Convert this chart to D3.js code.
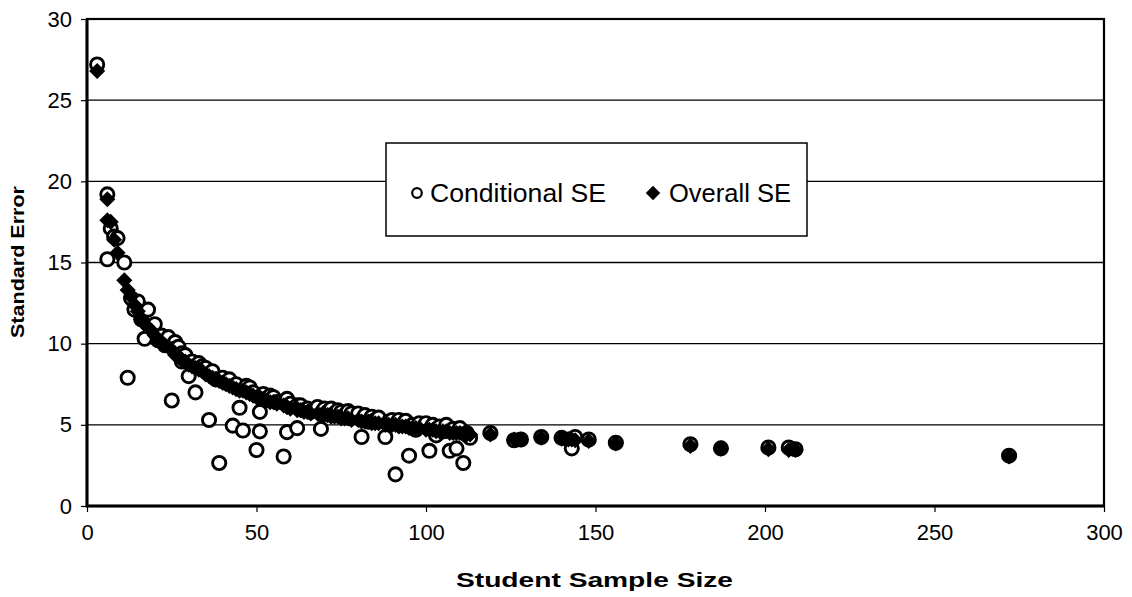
<!DOCTYPE html>
<html>
<head>
<meta charset="utf-8">
<script src="https://cdn.jsdelivr.net/npm/d3@7/dist/d3.min.js"></script>
<style>
  html, body { margin: 0; padding: 0; background: #fff; }
  svg { display: block; }
  text { font-family: "Liberation Sans", Arial, sans-serif; fill: #000; }
</style>
</head>
<body>
<svg id="chart" width="1132" height="597"></svg>
<script>
// Student sample size for each school
const sampleSize = [
  3, 6, 7, 6, 8, 9, 11, 12, 13, 14, 15, 16, 17, 18, 19, 20, 21, 22, 23, 24,
  25, 26, 26, 27, 28, 28, 29, 30, 31, 32, 33, 34, 35, 36, 37, 38, 39, 40, 41, 42,
  43, 44, 45, 46, 47, 48, 49, 50, 51, 51, 52, 53, 54, 55, 56, 58, 59, 59, 60, 62,
  62, 63, 64, 65, 66, 68, 69, 70, 71, 72, 73, 74, 75, 76, 77, 78, 80, 81, 82, 83,
  84, 85, 86, 88, 89, 90, 91, 92, 93, 94, 95, 96, 97, 98, 100, 101, 102, 103, 104, 105,
  106, 107, 108, 109, 110, 111, 112, 113, 119, 126, 128, 134, 140, 142, 143, 144, 148, 156, 178, 187,
  201, 207, 209, 272
];
// Conditional standard error for each school
const conditionalSE = [
  27.2, 19.2, 17.1, 15.2, 16.6, 16.5, 15.0, 7.9, 12.8, 12.1, 12.6, 11.5, 10.3, 12.1, 11.0, 11.2, 10.2, 10.5, 9.9, 10.4,
  6.5, 10.1, 9.7, 9.8, 8.9, 9.4, 9.3, 8.0, 8.9, 7.0, 8.8, 8.6, 8.5, 5.3, 8.3, 7.8, 2.65, 7.9, 7.6, 7.8,
  4.95, 7.5, 6.05, 4.65, 7.4, 7.3, 7.0, 3.45, 5.8, 4.6, 6.9, 6.6, 6.8, 6.7, 6.4, 3.05, 4.55, 6.6, 6.3, 4.8,
  6.2, 6.2, 5.9, 6.0, 5.8, 6.1, 4.75, 6.0, 5.8, 6.0, 5.7, 5.9, 5.8, 5.6, 5.85, 5.7, 5.7, 4.25, 5.6, 5.2,
  5.5, 5.3, 5.45, 4.25, 5.2, 5.3, 1.95, 5.3, 5.0, 5.25, 3.1, 5.0, 4.7, 5.1, 5.1, 3.4, 5.0, 4.35, 4.9, 4.6,
  5.0, 3.4, 4.75, 3.55, 4.8, 2.65, 4.5, 4.2, 4.5, 4.05, 4.1, 4.25, 4.2, 4.1, 3.55, 4.25, 4.1, 3.9, 3.8, 3.55,
  3.6, 3.6, 3.5, 3.1
];
// Overall standard error for each school
const overallSE = [
  26.8, 18.9, 17.5, 17.6, 16.4, 15.6, 13.9, 13.3, 12.9, 12.4, 12.0, 11.5, 11.2, 11.0, 10.8, 10.5, 10.2, 10.1, 9.9, 9.8,
  9.6, 9.4, 9.3, 9.2, 9.0, 9.0, 8.9, 8.7, 8.6, 8.5, 8.4, 8.3, 8.1, 8.0, 7.9, 7.8, 7.7, 7.6, 7.5, 7.4,
  7.3, 7.2, 7.1, 7.1, 7.0, 6.9, 6.8, 6.7, 6.7, 6.6, 6.6, 6.5, 6.4, 6.4, 6.3, 6.2, 6.1, 6.1, 6.0, 6.0,
  5.9, 5.9, 5.8, 5.8, 5.7, 5.7, 5.6, 5.6, 5.6, 5.5, 5.5, 5.5, 5.4, 5.4, 5.4, 5.3, 5.3, 5.2, 5.2, 5.2,
  5.1, 5.1, 5.1, 5.0, 5.0, 5.0, 5.0, 4.9, 4.9, 4.9, 4.8, 4.8, 4.8, 4.8, 4.7, 4.7, 4.7, 4.6, 4.6, 4.6,
  4.6, 4.5, 4.5, 4.5, 4.5, 4.4, 4.4, 4.4, 4.4, 4.1, 4.1, 4.2, 4.15, 4.1, 4.1, 4.05, 4.0, 3.85, 3.7, 3.55,
  3.5, 3.45, 3.45, 3.05
];
const xTicks = [0, 50, 100, 150, 200, 250, 300];
const yTicks = [0, 5, 10, 15, 20, 25, 30];
const seriesNames = ["Conditional SE", "Overall SE"];

const svg = d3.select("#chart");
const x = d3.scaleLinear().domain([0, 300]).range([87, 1104]);
const y = d3.scaleLinear().domain([0, 30]).range([506, 19]);

// horizontal gridlines
svg.append("g")
  .selectAll("line")
  .data(yTicks.filter(v => v > 0 && v < 30))
  .join("line")
  .attr("x1", x(0)).attr("x2", x(300))
  .attr("y1", d => y(d)).attr("y2", d => y(d))
  .attr("stroke", "#000").attr("stroke-width", 1.3);

// axes
const yAxis = svg.append("g")
  .attr("transform", `translate(${x(0)},0)`)
  .call(d3.axisLeft(y).tickValues(yTicks).tickSize(6).tickPadding(9).tickFormat(d3.format("d")));
const xAxis = svg.append("g")
  .attr("transform", `translate(0,${y(0)})`)
  .call(d3.axisBottom(x).tickValues(xTicks).tickSize(6).tickPadding(12).tickFormat(d3.format("d")));
[yAxis, xAxis].forEach(g => {
  g.select(".domain").remove();
  g.selectAll(".tick line").attr("stroke", "#000").attr("stroke-width", 1.2);
  g.selectAll(".tick text")
    .style("font-family", '"Liberation Sans", Arial, sans-serif')
    .style("font-size", "22px").attr("fill", "#000");
});

// plot frame: lighter top/right, heavier left/bottom
svg.append("rect")
  .attr("x", x(0)).attr("y", y(30))
  .attr("width", x(300) - x(0)).attr("height", y(0) - y(30))
  .attr("fill", "none").attr("stroke", "#000").attr("stroke-width", 2.2);
svg.append("path")
  .attr("d", `M${x(0)},${y(30)}V${y(0)}H${x(300)}`)
  .attr("fill", "none").attr("stroke", "#000").attr("stroke-width", 3);

const points = sampleSize.map((n, i) => ({ n, c: conditionalSE[i], o: overallSE[i] }));
const diamond = d3.symbol().type(d3.symbolDiamond2).size(165);

// conditional SE: open circles
svg.append("g")
  .selectAll("circle")
  .data(points)
  .join("circle")
  .attr("cx", d => x(d.n)).attr("cy", d => y(d.c))
  .attr("r", 6.6)
  .attr("fill", "#fff").attr("stroke", "#000").attr("stroke-width", 2.9);

// overall SE: filled diamonds
svg.append("g")
  .selectAll("path")
  .data(points)
  .join("path")
  .attr("transform", d => `translate(${x(d.n)},${y(d.o)})`)
  .attr("d", diamond)
  .attr("fill", "#000");

// legend
const lg = svg.append("g");
lg.append("rect")
  .attr("x", 386).attr("y", 143).attr("width", 421).attr("height", 93)
  .attr("fill", "#fff").attr("stroke", "#000").attr("stroke-width", 1.5);
lg.append("circle")
  .attr("cx", 417).attr("cy", 193).attr("r", 4.8)
  .attr("fill", "#fff").attr("stroke", "#000").attr("stroke-width", 2.2);
lg.append("text")
  .attr("x", 430).attr("y", 202)
  .attr("textLength", 176).attr("lengthAdjust", "spacingAndGlyphs")
  .style("font-size", "26px")
  .text(seriesNames[0]);
lg.append("path")
  .attr("transform", "translate(653,193)")
  .attr("d", d3.symbol().type(d3.symbolDiamond2).size(135))
  .attr("fill", "#000");
lg.append("text")
  .attr("x", 669).attr("y", 202)
  .attr("textLength", 122).attr("lengthAdjust", "spacingAndGlyphs")
  .style("font-size", "26px")
  .text(seriesNames[1]);

// axis titles
svg.append("text")
  .attr("x", 456).attr("y", 587)
  .attr("textLength", 277).attr("lengthAdjust", "spacingAndGlyphs")
  .style("font-size", "20px").style("font-weight", "bold")
  .text("Student Sample Size");
svg.append("text")
  .attr("transform", `translate(24,338) rotate(-90)`)
  .attr("textLength", 152).attr("lengthAdjust", "spacingAndGlyphs")
  .style("font-size", "19px").style("font-weight", "bold")
  .text("Standard Error");
</script>
</body>
</html>
